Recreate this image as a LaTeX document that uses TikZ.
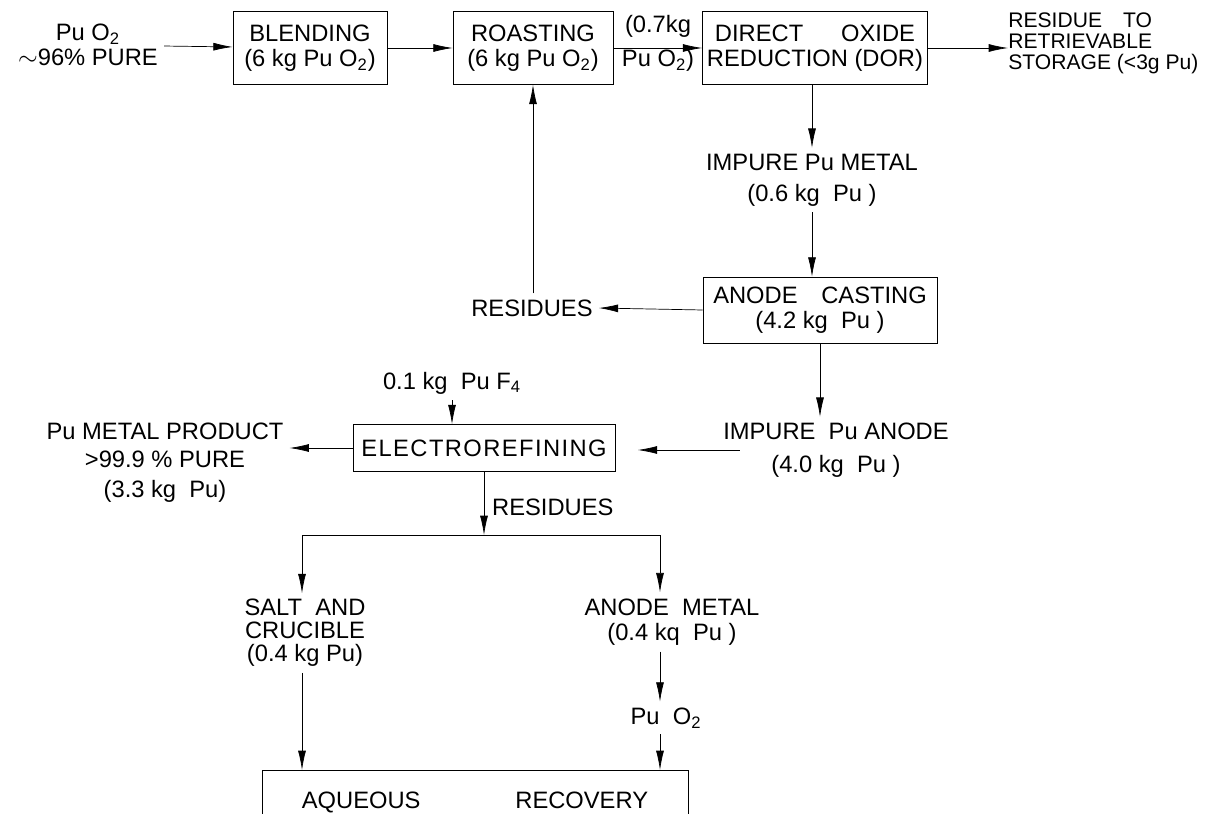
\documentclass[tikz,border=0pt]{standalone}
\usepackage{fontspec}
\setmainfont{Liberation Sans}
\usetikzlibrary{arrows.meta, positioning}
\tikzset{
    -{Latex[length=11pt,width=4.5pt]}, line width=1.1pt,
    every node/.style={font=\fontsize{13.5}{14.5}\selectfont, align=center},
    unit/.style={draw, rectangle, inner sep=1pt},
    small/.style={font=\fontsize{12}{12}\selectfont, inner sep=0pt}
}

\begin{document}
\begin{tikzpicture}[x=0.02cm, y=-0.02cm]
  \useasboundingbox (0,0) rectangle (1225,814);

  % top row
  \node (feed) at (88,45) {Pu O\textsubscript{2}\\$\sim$96\% PURE};
  \node[unit, minimum width=3.08cm, minimum height=1.46cm] (blend) at (310,48) {BLENDING\\(6 kg Pu O\textsubscript{2})};
  \node[unit, minimum width=3.2cm, minimum height=1.46cm] (roast) at (533,48) {ROASTING\\(6 kg Pu O\textsubscript{2})};
  \node (amt) at (658,43) {(0.7kg\\[5pt]Pu O\textsubscript{2})};
  \node[unit, minimum width=4.5cm, minimum height=1.46cm] (dor) at (815,48) {DIRECT\hspace{1.6em}OXIDE\\REDUCTION (DOR)};
  \node[small, anchor=west, align=left] (store) at (1008,43) {RESIDUE\quad TO\\RETRIEVABLE\\STORAGE (<3g Pu)};

  % casting
  \node (imet) at (812,180) {IMPURE Pu METAL\\[3pt](0.6 kg\ \ Pu )};
  \node[unit, minimum width=4.68cm, minimum height=1.32cm] (cast) at (820,310) {ANODE\quad CASTING\\(4.2 kg\ \ Pu )};
  \node (res1) at (532,308) {RESIDUES};
  \node (ianode) at (836,450) {IMPURE\ \ Pu ANODE\\[4pt](4.0 kg\ \ Pu )};

  % refining
  \node (pf4) at (452,383) {0.1 kg\ \ Pu F\textsubscript{4}};
  \node[unit, minimum width=5.24cm, minimum height=0.94cm] (elec) at (484,448) {\addfontfeature{LetterSpace=6}ELECTROREFINING};
  \node (prod) at (165,463) {Pu METAL PRODUCT\\[1pt]>99.9 \% PURE\\[3pt](3.3 kg\ \ Pu)};
  \node[anchor=west] (res2) at (486,507) {RESIDUES};
  \coordinate (jc) at (484,535);
  \coordinate (jl) at (302,535);
  \coordinate (jr) at (660,535);

  % recovery
  \node (salt) at (305,633) {SALT\ \ AND\\[-1.5pt]CRUCIBLE\\[-1.5pt](0.4 kg Pu)};
  \node (anmet) at (672,622) {ANODE\ \ METAL\\(0.4 kq\ \ Pu )};
  \node (puo2) at (666,718) {Pu\ \ O\textsubscript{2}};
  \node[unit, minimum width=8.52cm, minimum height=1.3cm, anchor=north] (aq) at (475,770) {AQUEOUS\hspace{4em}RECOVERY};

  \path (feed) edge (blend);
  \path (blend) edge (roast);
  \path (roast) edge (dor);
  \path (dor.east) edge (dor.east -| store.west);
  \path (dor.south -| imet) edge (imet.north);
  \path (imet.south) edge (imet.south |- cast.north);
  \path (cast.west) edge (res1.east);
  \path (roast.south |- res1.north) edge (roast.south);
  \path (cast.south) edge (cast.south |- ianode.north);
  \path ([xshift=0.45cm]ianode.west) edge ([xshift=0.45cm]ianode.west -| elec.east);
  \path (pf4.south) edge (pf4.south |- elec.north);
  \path (elec.west) edge (elec.west -| prod.east);
  \path (elec) edge (jc);
  \draw[-] (jl) -- (jr);
  \path (jl) edge (jl |- salt.north);
  \path (jr) edge (jr |- anmet.north);
  \path (jr |- anmet.south) edge (jr |- puo2.north);
  \path (jl |- salt.south) edge (jl |- aq.north);
  \path (jr |- puo2.south) edge (jr |- aq.north);
\end{tikzpicture}
\end{document}
